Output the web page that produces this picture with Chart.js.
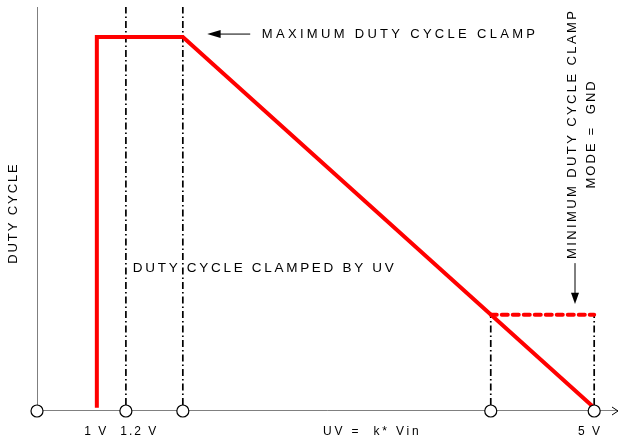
<!DOCTYPE html>
<html>
<head>
<meta charset="utf-8">
<script src="https://cdn.jsdelivr.net/npm/chart.js@4.4.0/dist/chart.umd.min.js"></script>
<style>
  html, body { margin: 0; padding: 0; background: #fff; }
  #wrap { width: 618px; height: 444px; }
</style>
</head>
<body>
<div id="wrap"><canvas id="chart"></canvas></div>
<script>
// schematic units: x 0..100 along UV axis, y 0..100 duty cycle
const nodeX = [0, 15.3, 25.1, 78.1, 95.9];

// duty cycle curve (red)
const dutyX = [10.3, 10.3, 25.1, 95.9];
const dutyY = [0.8, 92.6, 92.6, 0.8];

// minimum clamp (dashed red)
const minClampX = [78.1, 95.9];
const minClampY = [23.8, 23.8];

// dash-dot markers: x, top
const markerX = [15.3, 25.1, 78.1, 95.9];
const markerTop = [100, 100, 23.8, 23.8];

// tick labels under the axis
const tickText = ["1 V", "1.2 V", "UV =  k* Vin", "5 V"];
const tickX = [10.2, 17.6, 57.7, 95.2];

const pts = (xs, ys) => xs.map((x, i) => ({ x: x, y: ys[i] }));

const datasets = [];
datasets.push({
    data: nodeX.map(x => ({ x: x, y: 0 })),
    showLine: false,
    pointRadius: 6,
    pointBackgroundColor: "#ffffff",
    pointBorderColor: "#000000",
    pointBorderWidth: 1.2,
    clip: false,
    order: 0
});
datasets.push({
    data: pts(dutyX, dutyY),
    showLine: true,
    borderColor: "#ff0000",
    borderWidth: 4,
    pointRadius: 0,
    borderJoinStyle: "miter",
    order: 2
});
datasets.push({
    data: pts(minClampX, minClampY),
    showLine: true,
    borderColor: "#ff0000",
    borderWidth: 4,
    borderDash: [6, 5],
    borderCapStyle: "round",
    pointRadius: 0,
    order: 2
});
for (let i = 0; i < markerX.length; i++) {
    datasets.push({
        data: [{ x: markerX[i], y: 1.5 }, { x: markerX[i], y: markerTop[i] }],
        showLine: true,
        borderColor: "#000000",
        borderWidth: 1.7,
        borderDash: [7, 3, 1.5, 3],
        pointRadius: 0,
        order: 3
    });
}
// axes
datasets.push({
    data: [{ x: 0, y: 0 }, { x: 0, y: 100 }],
    showLine: true, borderColor: "#000", borderWidth: 1, pointRadius: 0, order: 4
});
datasets.push({
    data: [{ x: 0, y: 0 }, { x: 100, y: 0 }],
    showLine: true, borderColor: "#000", borderWidth: 1, pointRadius: 0, order: 4
});

// text drawn on the canvas
const notes = {
    id: "notes",
    afterDraw(chart) {
        const ctx = chart.ctx;
        const xs = chart.scales.x, ys = chart.scales.y;
        const X = v => xs.getPixelForValue(v);
        const Y = v => ys.getPixelForValue(v);
        const font = s => s + "px 'Liberation Sans', Arial, sans-serif";
        ctx.save();
        ctx.fillStyle = "#000";
        ctx.strokeStyle = "#000";
        ctx.textBaseline = "middle";
        ctx.font = font(12);

        // x axis arrow
        ctx.lineWidth = 1;
        ctx.beginPath();
        ctx.moveTo(X(100) - 6, Y(0) - 4);
        ctx.lineTo(X(100), Y(0));
        ctx.lineTo(X(100) - 6, Y(0) + 4);
        ctx.stroke();

        // tick labels
        ctx.textAlign = "center";
        tickText.forEach((t, i) => {
            ctx.letterSpacing = i === 2 ? "2.8px" : "2px";
            ctx.fillText(t, X(tickX[i]), Y(-5.2));
        });

        // max clamp label and arrow
        ctx.textAlign = "left";
        ctx.font = font(13);
        ctx.letterSpacing = "3.3px";
        ctx.fillText("MAXIMUM DUTY CYCLE CLAMP", X(38.7), Y(93.3));
        ctx.beginPath();
        ctx.moveTo(X(36.7), Y(93.3));
        ctx.lineTo(X(31), Y(93.3));
        ctx.stroke();
        ctx.beginPath();
        ctx.moveTo(X(29.3), Y(93.3));
        ctx.lineTo(X(31.6), Y(93.3) - 4);
        ctx.lineTo(X(31.6), Y(93.3) + 4);
        ctx.closePath();
        ctx.fill();

        // clamped by UV
        ctx.font = font(13.5);
        ctx.letterSpacing = "2.7px";
        ctx.fillText("DUTY CYCLE CLAMPED BY UV", X(16.5), Y(35.4));

        // vertical texts
        ctx.textAlign = "center";
        ctx.font = font(13);
        const vtext = (t, x, y, sp) => {
            ctx.save();
            ctx.letterSpacing = sp;
            ctx.translate(X(x), Y(y));
            ctx.rotate(-Math.PI / 2);
            ctx.fillText(t, 0, 0);
            ctx.restore();
        };
        vtext("DUTY CYCLE", -4.0, 49, "1.9px");
        vtext("MINIMUM DUTY CYCLE CLAMP", 92.1, 68.6, "2.4px");
        vtext("MODE =  GND", 95.4, 68.6, "2.1px");

        // min clamp arrow
        ctx.beginPath();
        ctx.moveTo(X(92.6), Y(36.6));
        ctx.lineTo(X(92.6), Y(28.5));
        ctx.stroke();
        ctx.beginPath();
        ctx.moveTo(X(92.6), Y(26.5));
        ctx.lineTo(X(92.6) - 4, Y(29.3));
        ctx.lineTo(X(92.6) + 4, Y(29.3));
        ctx.closePath();
        ctx.fill();
        ctx.restore();
    }
};

new Chart(document.getElementById("chart"), {
    type: "scatter",
    data: { datasets: datasets },
    plugins: [notes],
    options: {
        responsive: true,
        maintainAspectRatio: false,
        animation: false,
        layout: { autoPadding: false, padding: { left: 37, right: 0, top: 7, bottom: 33 } },
        plugins: { legend: { display: false }, tooltip: { enabled: false } },
        scales: {
            x: { type: "linear", min: 0, max: 100, display: false },
            y: { type: "linear", min: 0, max: 100, display: false }
        }
    }
});
</script>
</body>
</html>
